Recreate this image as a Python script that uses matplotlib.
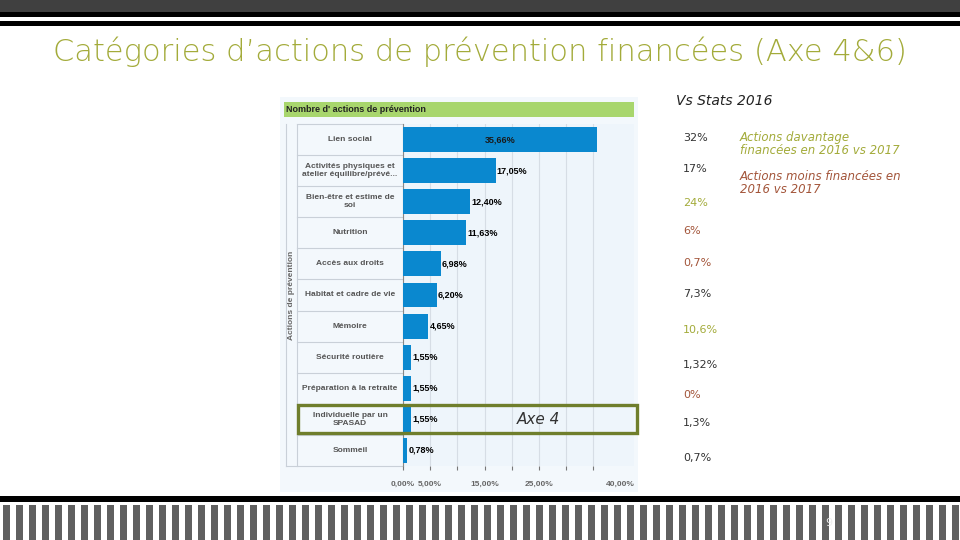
import matplotlib
matplotlib.use('Agg')
import matplotlib.pyplot as plt
from matplotlib.patches import Rectangle

# data
categories = ['Lien social', 'Activités physiques et\natelier équilibre/prévé...',
              'Bien-être et estime de\nsoi', 'Nutrition', 'Accès aux droits',
              'Habitat et cadre de vie', 'Mémoire', 'Sécurité routière',
              'Préparation à la retraite', 'Individuelle par un\nSPASAD', 'Sommeil']
values = [35.66, 17.05, 12.40, 11.63, 6.98, 6.20, 4.65, 1.55, 1.55, 1.55, 0.78]
value_labels = ['35,66%', '17,05%', '12,40%', '11,63%', '6,98%', '6,20%',
                '4,65%', '1,55%', '1,55%', '1,55%', '0,78%']
x_ticks = [0, 5, 10, 15, 20, 25, 30, 35]
x_tick_labels = ['0,00%', '5,00%', '', '15,00%', '', '25,00%', '', '']

stats_2016 = ['32%', '17%', '24%', '6%', '0,7%', '7,3%', '10,6%', '1,32%', '0%', '1,3%', '0,7%']
stats_trend = ['n', 'n', 'up', 'down', 'down', 'n', 'up', 'n', 'down', 'n', 'n']

OLIVE = '#a3ab3a'
BROWN = '#a3553a'
trend_colors = {'n': '#333333', 'up': OLIVE, 'down': BROWN}
stats_y = [138, 169, 203, 231, 263, 294, 330, 365, 395, 423, 458]

W, H = 960, 540
fig = plt.figure(figsize=(9.6, 5.4), dpi=100)
fig.patch.set_facecolor('white')


def prect(x, y, w, h, z=-1, **kw):
    fig.add_artist(Rectangle((x / W, 1 - (y + h) / H), w / W, h / H,
                             transform=fig.transFigure, zorder=z, **kw))


def ptext(x, y, s, **kw):
    fig.text(x / W, 1 - y / H, s, **kw)


# slide frame top
prect(0, 0, 960, 12, facecolor='#404040', edgecolor='none')
prect(0, 12, 960, 5, facecolor='black', edgecolor='none')
prect(0, 21, 960, 5, facecolor='black', edgecolor='none')

# slide frame bottom
prect(0, 496, 960, 6, facecolor='black', edgecolor='none')
for i in range(75):
    prect(3 + 13 * i, 505, 7, 35, facecolor='#606060', edgecolor='none')
ptext(829, 523, '9', color='#eeeeee', fontsize=8, ha='center', va='center')

# title
ptext(480, 52, "Catégories d\u2019actions de prévention financées (Axe 4&6)",
      color=OLIVE, fontsize=22, ha='center', va='center', fontweight='light')

# chart container
prect(280, 97, 358, 395, facecolor='#f3f8fc', edgecolor='none')
prect(284, 102, 350, 15, facecolor='#a8d66d', edgecolor='none')
ptext(286, 110, "Nombre d' actions de prévention", fontsize=6.5, fontweight='bold',
      color='#222222', va='center', family='Liberation Sans')

# label column
axl = fig.add_axes([286 / W, 1 - 466 / H, (403 - 286) / W, (466 - 124) / H])
axl.set_xlim(0, 1)
axl.set_ylim(len(categories) - 0.5, -0.5)
axl.axis('off')
for k in range(len(categories) + 1):
    axl.plot([11 / 117, 1], [k - 0.5, k - 0.5], color='#c9d0d8', lw=0.8, clip_on=False)
axl.plot([0, 0], [-0.5, len(categories) - 0.5], color='#c9d0d8', lw=0.8, clip_on=False)
axl.plot([11 / 117, 11 / 117], [-0.5, len(categories) - 0.5], color='#c9d0d8', lw=0.8)
axl.plot([0, 11 / 117], [len(categories) - 0.5] * 2, color='#c9d0d8', lw=0.8, clip_on=False)
for i, c in enumerate(categories):
    axl.text(64 / 117, i, c, ha='center', va='center', fontsize=6, color='#555555',
             fontweight='bold', family='Liberation Sans', linespacing=1.2)
axl.text(5.5 / 117, (len(categories) - 1) / 2, 'Actions de prévention', rotation=90,
         ha='center', va='center', fontsize=6, color='#666666', fontweight='bold',
         family='Liberation Sans')

# bar chart
ax = fig.add_axes([403 / W, 1 - 466 / H, (634 - 403) / W, (466 - 124) / H])
ax.set_facecolor('#eef5fb')
ypos = list(range(len(categories)))
ax.barh(ypos, values, height=0.8, color='#0a88cf', zorder=3)
ax.set_ylim(len(categories) - 0.5, -0.5)
ax.set_xlim(0, 42.5)
ax.set_xticks(x_ticks)
ax.set_xticklabels(x_tick_labels)
ax.set_xticks([40], minor=True)
ax.set_xticklabels(['40,00%'], minor=True)
ax.tick_params(axis='x', which='major', length=3, color='#777777', labelsize=6,
               labelcolor='#666666', pad=8)
ax.tick_params(axis='x', which='minor', length=0, labelsize=6,
               labelcolor='#666666', pad=11)
ax.set_yticks([])
ax.grid(axis='x', which='major', color='#d6dde5', lw=0.8, zorder=0)
for s in ['top', 'right', 'bottom']:
    ax.spines[s].set_visible(False)
ax.spines['left'].set_color('#888888')
ax.spines['left'].set_linewidth(0.8)
for lab in ax.get_xticklabels(which='both'):
    lab.set_fontweight('bold')
    lab.set_family('Liberation Sans')

for i, (v, t) in enumerate(zip(values, value_labels)):
    if i == 0:
        ax.text(v / 2, i, t, ha='center', va='center', fontsize=6.5,
                fontweight='bold', color='#1a1a1a', zorder=4, family='Liberation Sans')
    else:
        ax.text(v + 0.2, i, t, ha='left', va='center', fontsize=6.5,
                fontweight='bold', color='black', zorder=4, family='Liberation Sans')

# highlight Axe 4
prect(298, 405, 339, 28, z=5, facecolor='none', edgecolor='#6f7e2c', lw=2.4)
ptext(538, 419, 'Axe 4', fontsize=11, style='italic', color='#333333',
      ha='center', va='center')

# right side comparison
ptext(676, 101, 'Vs Stats 2016', fontsize=10, style='italic', color='#222222', va='center')
for s, tr, y in zip(stats_2016, stats_trend, stats_y):
    ptext(683, y, s, fontsize=8, color=trend_colors[tr], va='center')
ptext(740, 144, 'Actions davantage\nfinancées en 2016 vs 2017', fontsize=8.5,
      style='italic', color=OLIVE, va='center', linespacing=1.0)
ptext(740, 183, 'Actions moins financées en\n2016 vs 2017', fontsize=8.5,
      style='italic', color=BROWN, va='center', linespacing=1.0)

fig.savefig('out.png', dpi=100)
